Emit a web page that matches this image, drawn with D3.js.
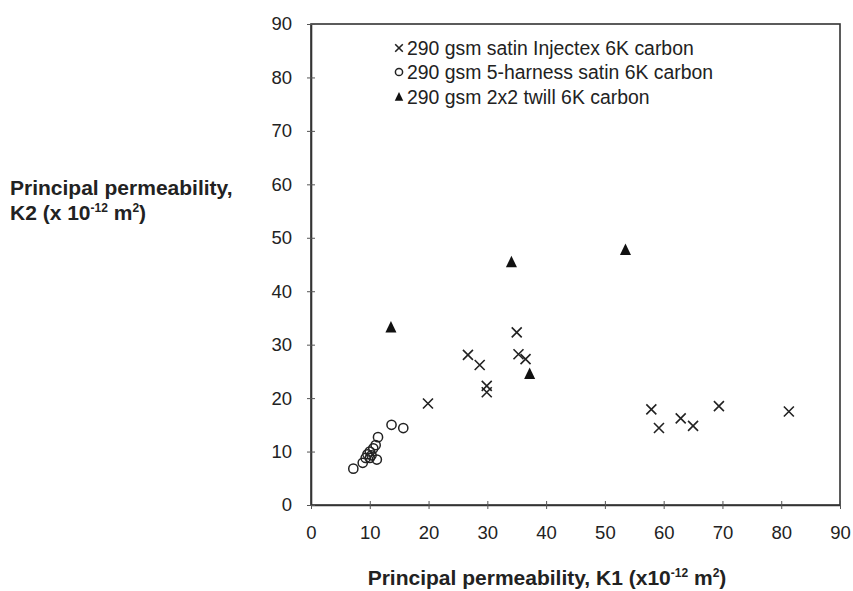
<!DOCTYPE html>
<html>
<head>
<meta charset="utf-8">
<script src="https://cdn.jsdelivr.net/npm/d3@7"></script>
<style>
  body { margin: 0; background: #fff; }
  svg { font-family: "Liberation Sans", Arial, sans-serif; }
</style>
</head>
<body>
<svg id="chart" width="853" height="591"></svg>
<script>
// K1, K2 values (x10^-12 m2)
var injectexK1 = [19.9, 26.7, 28.7, 29.9, 29.9, 35.0, 35.3, 36.5, 57.9, 59.2, 62.9, 65.0, 69.4, 81.3];
var injectexK2 = [19.0, 28.1, 26.2, 22.3, 21.1, 32.3, 28.2, 27.3, 17.9, 14.4, 16.2, 14.8, 18.5, 17.5];

var harnessK1 = [7.2, 8.8, 11.2, 9.3, 9.6, 10.0, 10.3, 10.6, 10.0, 11.0, 11.4, 13.7, 15.7];
var harnessK2 = [6.8, 7.9, 8.5, 8.8, 9.5, 10.0, 9.3, 10.6, 8.8, 11.2, 12.7, 15.0, 14.4];

var twillK1 = [13.6, 34.1, 37.2, 53.5];
var twillK2 = [33.2, 45.4, 24.5, 47.7];

var xTicks = [0, 10, 20, 30, 40, 50, 60, 70, 80, 90];
var yTicks = [0, 10, 20, 30, 40, 50, 60, 70, 80, 90];

var legendLabels = [
    "290 gsm satin Injectex 6K carbon",
    "290 gsm 5-harness satin 6K carbon",
    "290 gsm 2x2 twill 6K carbon"
];

var svg = d3.select("#chart"),
    plotL = 311, plotR = 840, plotT = 24, plotB = 505;

var x = d3.scaleLinear().domain([0, 90]).range([plotL, plotR]);
var y = d3.scaleLinear().domain([0, 90]).range([plotB, plotT]);

// frame
svg.append("rect")
    .attr("x", plotL).attr("y", plotT)
    .attr("width", plotR - plotL).attr("height", plotB - plotT)
    .attr("fill", "none").attr("stroke", "#333").attr("stroke-width", 1.6);

// axes, ticks cross the line
var xAxis = svg.append("g").attr("transform", "translate(0," + plotB + ")")
    .call(d3.axisBottom(x).tickValues(xTicks).tickSizeInner(5).tickSizeOuter(0).tickPadding(16));
var yAxis = svg.append("g").attr("transform", "translate(" + plotL + ",0)")
    .call(d3.axisLeft(y).tickValues(yTicks).tickSizeInner(5).tickSizeOuter(0).tickPadding(14));

[xAxis, yAxis].forEach(function (ax) {
    ax.select(".domain").attr("stroke", "#333").attr("stroke-width", 1.6);
    ax.selectAll(".tick line").attr("stroke", "#555");
    ax.selectAll(".tick text").attr("font-size", 18.5).attr("fill", "#222")
        .attr("font-family", "Liberation Sans, Arial, sans-serif");
});
xAxis.selectAll(".tick line").attr("y1", -4).attr("y2", 4);
yAxis.selectAll(".tick line").attr("x1", -4).attr("x2", 4);

// markers
function drawCross(g, cx, cy, s) {
    g.append("path")
        .attr("d", "M" + (cx - s) + "," + (cy - s) + "L" + (cx + s) + "," + (cy + s) +
            "M" + (cx - s) + "," + (cy + s) + "L" + (cx + s) + "," + (cy - s))
        .attr("stroke", "#222").attr("stroke-width", 1.6).attr("fill", "none");
}
function drawCircle(g, cx, cy, r) {
    g.append("circle").attr("cx", cx).attr("cy", cy).attr("r", r)
        .attr("fill", "none").attr("stroke", "#222").attr("stroke-width", 1.5);
}
function drawTri(g, cx, cy, s) {
    g.append("path")
        .attr("d", "M" + cx + "," + (cy - s) + "L" + (cx + s * 0.85) + "," + (cy + s * 0.75) +
            "L" + (cx - s * 0.85) + "," + (cy + s * 0.75) + "Z")
        .attr("fill", "#111");
}

var pts = svg.append("g");
harnessK1.forEach(function (d, i) { drawCircle(pts, x(d), y(harnessK2[i]), 4.6); });
injectexK1.forEach(function (d, i) { drawCross(pts, x(d), y(injectexK2[i]), 5); });
twillK1.forEach(function (d, i) { drawTri(pts, x(d), y(twillK2[i]), 6.5); });

// legend
var lg = svg.append("g");
var legY = [48, 72, 97];
legendLabels.forEach(function (t, i) {
    if (i == 0) drawCross(lg, 399, legY[i], 3.8);
    if (i == 1) drawCircle(lg, 399, legY[i], 3.6);
    if (i == 2) drawTri(lg, 399, legY[i], 5);
    lg.append("text").attr("x", 407).attr("y", legY[i]).attr("dy", "0.35em")
        .attr("font-size", 19.4).attr("fill", "#222").text(t);
});

// axis titles
var xt = svg.append("text").attr("x", 547).attr("y", 585)
    .attr("text-anchor", "middle").attr("font-size", 21).attr("font-weight", "bold").attr("fill", "#222");
xt.append("tspan").text("Principal permeability, K1 (x10");
xt.append("tspan").attr("dy", -8).attr("font-size", 12).text("-12");
xt.append("tspan").attr("dy", 8).text(" m");
xt.append("tspan").attr("dy", -8).attr("font-size", 12).text("2");
xt.append("tspan").attr("dy", 8).text(")");

var yt = svg.append("text").attr("x", 10).attr("y", 195)
    .attr("font-size", 21).attr("font-weight", "bold").attr("fill", "#222")
    .text("Principal permeability,");
var yt2 = svg.append("text").attr("x", 10).attr("y", 220).attr("font-size", 21).attr("font-weight", "bold").attr("fill", "#222");
yt2.append("tspan").text("K2 (x 10");
yt2.append("tspan").attr("dy", -8).attr("font-size", 12).text("-12");
yt2.append("tspan").attr("dy", 8).text(" m");
yt2.append("tspan").attr("dy", -8).attr("font-size", 12).text("2");
yt2.append("tspan").attr("dy", 8).text(")");
</script>
</body>
</html>
